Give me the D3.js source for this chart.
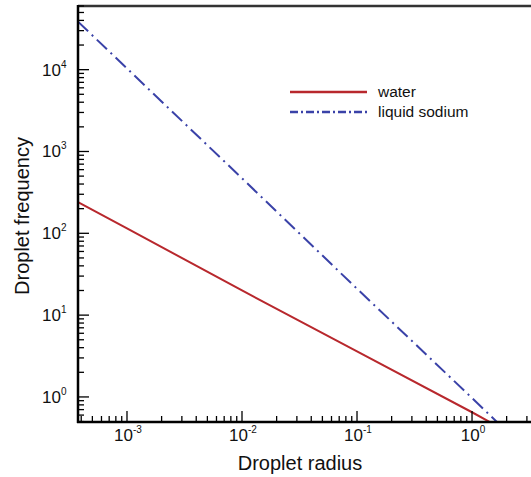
<!DOCTYPE html>
<html>
<head>
<meta charset="utf-8">
<script src="https://cdn.jsdelivr.net/npm/d3@7"></script>
<style>
  body { margin: 0; background: #fff; }
  svg { display: block; font-family: "Liberation Sans", Arial, sans-serif; }
</style>
</head>
<body>
<div id="chart"></div>
<script>
// Data
const radius = [3.75e-4, 1e-3, 1e-2, 1e-1, 1, 2];
const water = [240, 115, 20, 3.6, 0.65, 0.38];
const sodium = [38600, 10350, 470, 21, 0.97, 0.38];
const seriesNames = ["water", "liquid sodium"];
const xTickExps = [-3, -2, -1, 0];
const yTickExps = [0, 1, 2, 3, 4];

const width = 531, height = 477;
const margin = { left: 78, top: 6, bottom: 422, right: 540 };

const svg = d3.select("#chart")
    .append("svg")
    .attr("width", width)
    .attr("height", height);

const x = d3.scaleLog().domain([3.75e-4, 3.9]).range([margin.left, margin.right]);
const y = d3.scaleLog().domain([0.494, 60000]).range([margin.bottom, margin.top]);

svg.append("clipPath").attr("id", "clip")
    .append("rect")
    .attr("x", margin.left).attr("y", margin.top)
    .attr("width", margin.right - margin.left)
    .attr("height", margin.bottom - margin.top);

// Lines
const line = d3.line().x(d => x(d[0])).y(d => y(d[1]));

svg.append("path")
    .datum(radius.map((r, i) => [r, water[i]]))
    .attr("clip-path", "url(#clip)")
    .attr("fill", "none")
    .attr("stroke", "#b8282d")
    .attr("stroke-width", 2)
    .attr("d", line);

svg.append("path")
    .datum(radius.map((r, i) => [r, sodium[i]]))
    .attr("clip-path", "url(#clip)")
    .attr("fill", "none")
    .attr("stroke", "#3a42a8")
    .attr("stroke-width", 2)
    .attr("stroke-dasharray", "14,5,2,5")
    .attr("d", line);

// Frame: top border, left and bottom axes
svg.append("line")
    .attr("x1", margin.left).attr("x2", width)
    .attr("y1", margin.top).attr("y2", margin.top)
    .attr("stroke", "#333").attr("stroke-width", 2.5);

svg.append("line")
    .attr("x1", margin.left).attr("x2", margin.left)
    .attr("y1", margin.top - 1).attr("y2", margin.bottom + 1)
    .attr("stroke", "#000").attr("stroke-width", 2.5);

svg.append("line")
    .attr("x1", margin.left - 1).attr("x2", width)
    .attr("y1", margin.bottom).attr("y2", margin.bottom)
    .attr("stroke", "#000").attr("stroke-width", 2.5);

const isMajor = d => Math.abs(Math.log10(d) - Math.round(Math.log10(d))) < 1e-9;

// X ticks (pointing up, inside)
svg.append("g").selectAll("line")
    .data(x.ticks())
    .join("line")
    .attr("x1", d => x(d)).attr("x2", d => x(d))
    .attr("y1", margin.bottom)
    .attr("y2", d => margin.bottom - (isMajor(d) ? 11 : 6))
    .attr("stroke", "#000").attr("stroke-width", 1.3);

// Y ticks (pointing right, inside)
svg.append("g").selectAll("line")
    .data(y.ticks())
    .join("line")
    .attr("y1", d => y(d)).attr("y2", d => y(d))
    .attr("x1", margin.left)
    .attr("x2", d => margin.left + (isMajor(d) ? 11 : 6))
    .attr("stroke", "#000").attr("stroke-width", 1.3);

// Tick labels with superscript exponents
const xl = svg.append("g").selectAll("text")
    .data(xTickExps)
    .join("text")
    .attr("x", d => x(Math.pow(10, d)) + 1)
    .attr("y", 441)
    .attr("text-anchor", "middle")
    .attr("font-size", 17)
    .attr("fill", "#111");
xl.append("tspan").text("10");
xl.append("tspan").attr("dy", -8).attr("font-size", 10).text(d => d);

const yl = svg.append("g").selectAll("text")
    .data(yTickExps)
    .join("text")
    .attr("x", 42)
    .attr("y", d => y(Math.pow(10, d)) + 6)
    .attr("font-size", 17)
    .attr("fill", "#111");
yl.append("tspan").text("10");
yl.append("tspan").attr("dy", -8).attr("font-size", 10).text(d => d);

// Axis titles
svg.append("text")
    .attr("x", 300).attr("y", 470)
    .attr("text-anchor", "middle")
    .attr("font-size", 20)
    .attr("fill", "#111")
    .text("Droplet radius");

svg.append("text")
    .attr("transform", "translate(29,216) rotate(-90)")
    .attr("text-anchor", "middle")
    .attr("font-size", 20)
    .attr("fill", "#111")
    .text("Droplet frequency");

// Legend
const legend = svg.append("g").attr("transform", "translate(290,92)");
const legendStyles = [
    { stroke: "#b8282d", dash: null },
    { stroke: "#3a42a8", dash: "8,3,2,3" }
];
seriesNames.forEach((name, i) => {
    const row = legend.append("g").attr("transform", `translate(0,${i * 20})`);
    row.append("line")
        .attr("x1", 0).attr("x2", 77)
        .attr("stroke", legendStyles[i].stroke)
        .attr("stroke-width", 2.5)
        .attr("stroke-dasharray", legendStyles[i].dash);
    row.append("text")
        .attr("x", 88).attr("y", 5)
        .attr("font-size", 15.5)
        .attr("fill", "#111")
        .text(name);
});
</script>
</body>
</html>
